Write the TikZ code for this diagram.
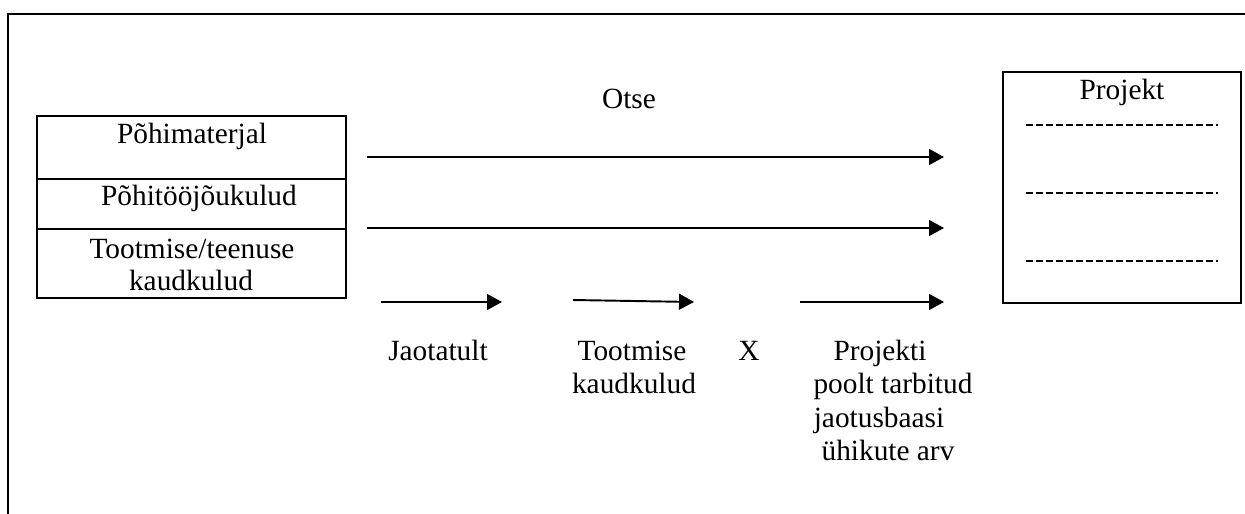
\documentclass[tikz,border=0pt]{standalone}
\usepackage{fontspec}
\setmainfont{Liberation Serif}
\usetikzlibrary{arrows.meta}

\begin{document}
\begin{tikzpicture}[x=0.02cm, y=-0.02cm, line width=1.2pt,
    lbl/.style={anchor=base, inner sep=0pt, font=\fontsize{16.7}{19.5}\selectfont},
    flow/.style={-{Triangle[length=8.5pt, width=9pt]}, line width=1.1pt},
    fillrow/.style={dash pattern=on 4pt off 1.7pt, line width=1.1pt}]
  \useasboundingbox (0,0) rectangle (1245,514);
  % outer frame, open at right and bottom
  \draw (1245,14) -- (8,14) -- (8,514);

  % cost groups
  \draw (37,116) rectangle (346,298);
  \draw (37,179) -- (346,179);
  \draw (37,229) -- (346,229);
  \node[lbl] (mat) at (192,143) {Põhimaterjal};
  \node[lbl] (tjk) at (199,205) {Põhitööjõukulud};
  \node[lbl] (kaud) at (192,258) {Tootmise/teenuse};
  \node[lbl] (kaudb) at (191,290) {kaudkulud};

  % project box
  \draw (1003,72) rectangle (1241,303);
  \node[lbl] (projekt) at (1122,99) {Projekt};
  \foreach \y in {125,193,261}
    \draw[fillrow] (1026,\y) -- (1218,\y);

  % direct costs
  \node[lbl] (otse) at (629,108) {Otse};
  \coordinate (m1) at (367,157);
  \coordinate (m2) at (944,157);
  \coordinate (t1) at (367,228);
  \coordinate (t2) at (944,228);
  \draw[flow] (m1) -- (m2);
  \draw[flow] (t1) -- (t2);

  % allocated costs
  \coordinate (j1) at (381,302);
  \coordinate (j2) at (502,302);
  \coordinate (k1) at (573,300);
  \coordinate (k2) at (694,302);
  \coordinate (p1) at (800,302);
  \coordinate (p2) at (944,302);
  \draw[flow] (j1) -- (j2);
  \draw[flow] (k1) -- (k2);
  \draw[flow] (p1) -- (p2);

  \node[lbl] (jaot) at (438,360) {Jaotatult};
  \node[lbl] (tootm) at (632,360) {Tootmise};
  \node[lbl] (tootmb) at (634,393) {kaudkulud};
  \node[lbl] (korda) at (749,360) {X};
  \node[lbl] (proj1) at (880,360) {Projekti};
  \node[lbl] (proj2) at (893,393) {poolt tarbitud};
  \node[lbl] (proj3) at (879,427) {jaotusbaasi};
  \node[lbl] (proj4) at (888,460) {ühikute arv};
\end{tikzpicture}
\end{document}
